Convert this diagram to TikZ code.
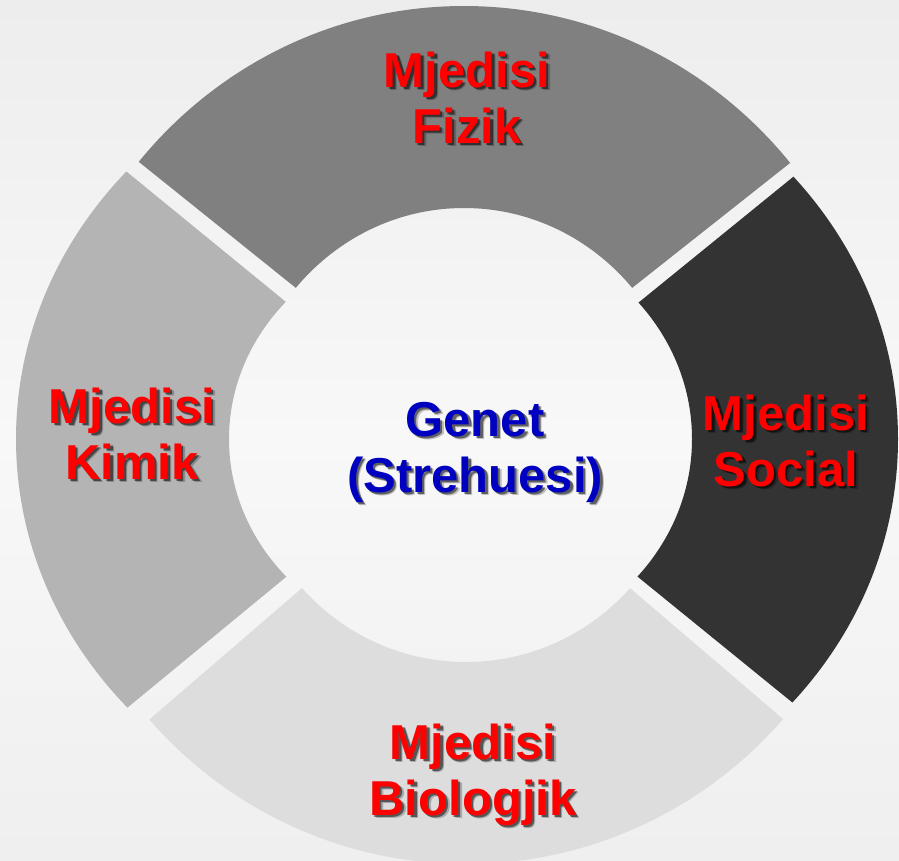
\documentclass[tikz,border=0pt]{standalone}
\usepackage{fontspec}
\setmainfont{Liberation Sans}
\usetikzlibrary{calc}
\definecolor{bgtop}{HTML}{EDEDED}
\definecolor{bgmid}{HTML}{F8F8F8}
\definecolor{bgbot}{HTML}{EFEFEF}
\definecolor{segtop}{HTML}{808080}
\definecolor{segright}{HTML}{333333}
\definecolor{segbot}{HTML}{DDDDDD}
\definecolor{segleft}{HTML}{B4B4B4}
\definecolor{lblred}{HTML}{FF0000}
\definecolor{lblblue}{HTML}{0000C0}
\newcommand\shlabel[4]{%
  \node[lbl, text=black, opacity=0.22] (#1-blur) at ($(#2)+(3.6,3.6)$) {#3};
  \node[lbl, text=black, opacity=0.5] (#1-shadow) at ($(#2)+(2.4,2.4)$) {#3};
  \node[lbl, text=#4] (#1) at (#2) {#3};
}
\begin{document}
\begin{tikzpicture}[x=1pt,y=-1pt,
  lbl/.style={font=\bfseries\fontsize{49}{56}\selectfont, align=center, inner sep=0pt, anchor=base},
  seg/.style={even odd rule}]
\useasboundingbox (0,0) rectangle (899,860);
\shade[top color=bgtop, bottom color=bgmid] (0,0) rectangle (899,438);
\shade[top color=bgmid, bottom color=bgbot] (0,437) rectangle (899,860);
% segment corners (outer / inner)
\coordinate (tLo) at (139,162); \coordinate (tLi) at (296,288);
\coordinate (tRo) at (790,163); \coordinate (tRi) at (632,288);
\coordinate (lTo) at (127,172); \coordinate (lTi) at (286,302);
\coordinate (lBo) at (127,708); \coordinate (lBi) at (286,577);
\coordinate (bLo) at (150,719); \coordinate (bLi) at (302,588);
\coordinate (bRo) at (783,719); \coordinate (bRi) at (631,589);
\coordinate (rTo) at (793,177); \coordinate (rTi) at (638,303);
\coordinate (rBo) at (793,703); \coordinate (rBi) at (638,577);
% top segment
\begin{scope}
  \clip ($(tLo)!1.8!(tLi)$) -- ($(tLi)!2.5!(tLo)$) -- (464,-500) -- ($(tRi)!2.5!(tRo)$) -- ($(tRo)!1.8!(tRi)$) -- cycle;
  \fill[seg, segtop] (464,438) ellipse [x radius=423, y radius=432] (464,438) ellipse [x radius=222, y radius=230];
\end{scope}
% left segment
\begin{scope}
  \clip ($(lTo)!1.8!(lTi)$) -- ($(lTi)!2.5!(lTo)$) -- (-500,440) -- ($(lBi)!2.5!(lBo)$) -- ($(lBo)!1.8!(lBi)$) -- cycle;
  \fill[seg, segleft] (459,439) ellipse [x radius=443, y radius=405] (459,439) ellipse [x radius=230, y radius=208.5];
\end{scope}
% bottom segment
\begin{scope}
  \clip ($(bLo)!1.8!(bLi)$) -- ($(bLi)!2.5!(bLo)$) -- (466,1400) -- ($(bRi)!2.5!(bRo)$) -- ($(bRo)!1.8!(bRi)$) -- cycle;
  \fill[seg, segbot] (466,438) ellipse [x radius=422, y radius=426] (466,438) ellipse [x radius=221, y radius=224];
\end{scope}
% right segment
\begin{scope}
  \clip ($(rTo)!1.8!(rTi)$) -- ($(rTi)!2.5!(rTo)$) -- (1400,440) -- ($(rBi)!2.5!(rBo)$) -- ($(rBo)!1.8!(rBi)$) -- cycle;
  \fill[seg, segright] (459,439) ellipse [x radius=439, y radius=405] (459,439) ellipse [x radius=233, y radius=214];
\end{scope}
% positions are the baselines of the last lines
\coordinate (pt) at (467,143);
\coordinate (pl) at (132,479);
\coordinate (pr) at (786,486);
\coordinate (pb) at (473,815);
\coordinate (pc) at (475,492);
\shlabel{fizik}{pt}{Mjedisi\\Fizik}{lblred}
\shlabel{kimik}{pl}{Mjedisi\\Kimik}{lblred}
\shlabel{social}{pr}{Mjedisi\\Social}{lblred}
\shlabel{bio}{pb}{Mjedisi\\Biologjik}{lblred}
\shlabel{genet}{pc}{Genet\\(Strehuesi)}{lblblue}
\end{tikzpicture}
\end{document}
